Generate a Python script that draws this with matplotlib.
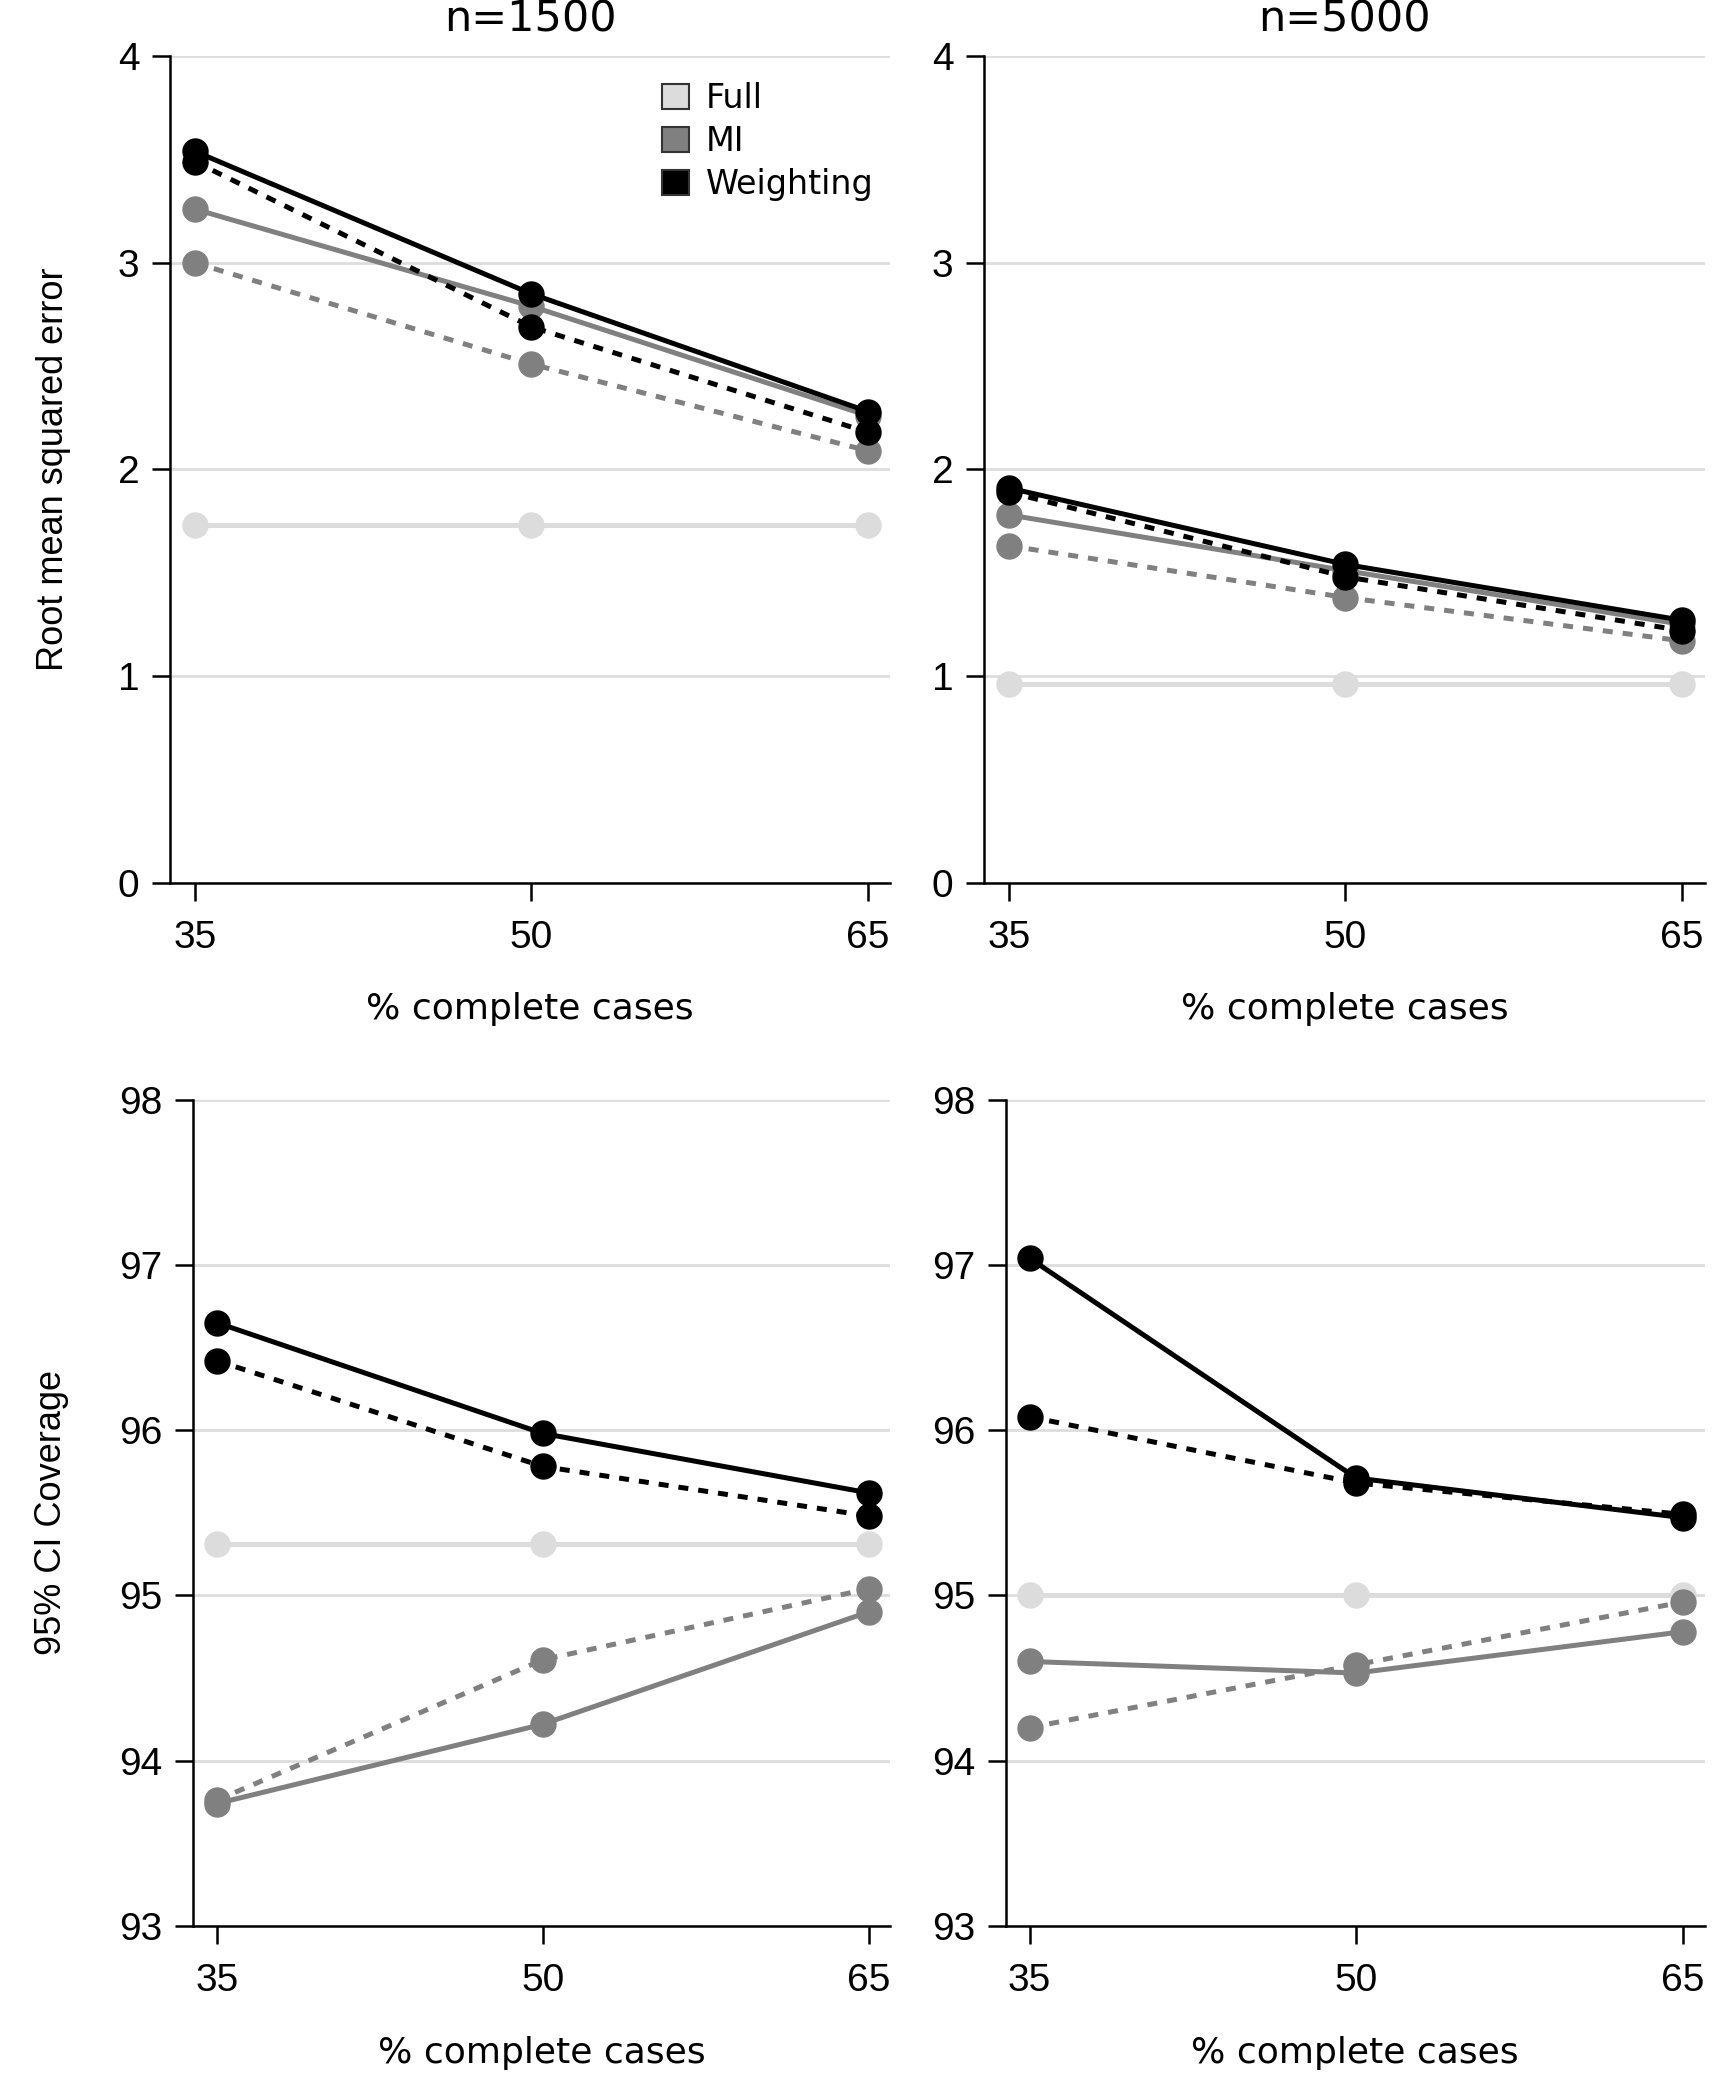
import numpy as np
import matplotlib
matplotlib.use("Agg")
import matplotlib.pyplot as plt
from matplotlib.patches import Patch

# % complete cases
pct = [35, 50, 65]

# RMSE, n=1500
rmse1500_full = [1.73, 1.73, 1.73]
rmse1500_mi = [3.26, 2.79, 2.26]
rmse1500_mi_d = [3.00, 2.51, 2.09]
rmse1500_w = [3.54, 2.85, 2.28]
rmse1500_w_d = [3.49, 2.69, 2.18]

# RMSE, n=5000
rmse5000_full = [0.96, 0.96, 0.96]
rmse5000_mi = [1.78, 1.51, 1.25]
rmse5000_mi_d = [1.63, 1.38, 1.17]
rmse5000_w = [1.91, 1.54, 1.27]
rmse5000_w_d = [1.89, 1.48, 1.22]

# coverage, n=1500
cov1500_full = [95.31, 95.31, 95.31]
cov1500_mi = [93.74, 94.22, 94.90]
cov1500_mi_d = [93.76, 94.61, 95.04]
cov1500_w = [96.65, 95.98, 95.62]
cov1500_w_d = [96.42, 95.78, 95.48]

# coverage, n=5000
cov5000_full = [95.00, 95.00, 95.00]
cov5000_mi = [94.60, 94.53, 94.78]
cov5000_mi_d = [94.20, 94.58, 94.96]
cov5000_w = [97.04, 95.71, 95.47]
cov5000_w_d = [96.08, 95.68, 95.49]

C_FULL = "#dcdcdc"
C_MI = "#808080"
C_W = "#000000"

TICKFONT = "Liberation Sans"
LABFONT = "DejaVu Sans"

fig = plt.figure(figsize=(17.3, 21), dpi=100)

W, H = 1292.0, 1568.0
def box(l, r, t, b):
    return [l / W, 1 - b / H, (r - l) / W, (b - t) / H]

ax_tl = fig.add_axes(box(127, 665, 42, 659))
ax_tr = fig.add_axes(box(735, 1273, 42, 659))
ax_bl = fig.add_axes(box(144, 665, 821, 1438))
ax_br = fig.add_axes(box(751, 1273, 821, 1438))


def draw(ax, full, mi, mi_d, w, w_d, ylim, yticks):
    kw = dict(lw=3.6, marker="o", ms=18, solid_capstyle="butt")
    ax.plot(pct, full, color=C_FULL, **kw)
    ax.plot(pct, mi_d, color=C_MI, ls=(0, (2.0, 2.0)), **kw)
    ax.plot(pct, mi, color=C_MI, **kw)
    ax.plot(pct, w_d, color=C_W, ls=(0, (2.0, 2.0)), **kw)
    ax.plot(pct, w, color=C_W, **kw)
    ax.set_xlim(33.9, 66)
    ax.set_ylim(*ylim)
    ax.set_yticks(yticks)
    ax.set_xticks(pct)
    for s in ["top", "right"]:
        ax.spines[s].set_visible(False)
    for s in ["left", "bottom"]:
        ax.spines[s].set_linewidth(1.8)
    ax.yaxis.grid(True, color="#dddddd", lw=2)
    ax.set_axisbelow(True)
    ax.tick_params(axis="both", length=13, width=1.8, labelsize=28)
    ax.tick_params(axis="y", pad=9)
    ax.tick_params(axis="x", pad=14)
    for lab in ax.get_xticklabels() + ax.get_yticklabels():
        lab.set_fontfamily(TICKFONT)
    ax.set_xlabel("% complete cases", fontsize=26, family=LABFONT, labelpad=26)


draw(ax_tl, rmse1500_full, rmse1500_mi, rmse1500_mi_d, rmse1500_w, rmse1500_w_d, (0, 4), [0, 1, 2, 3, 4])
draw(ax_tr, rmse5000_full, rmse5000_mi, rmse5000_mi_d, rmse5000_w, rmse5000_w_d, (0, 4), [0, 1, 2, 3, 4])
draw(ax_bl, cov1500_full, cov1500_mi, cov1500_mi_d, cov1500_w, cov1500_w_d, (93, 98), [93, 94, 95, 96, 97, 98])
draw(ax_br, cov5000_full, cov5000_mi, cov5000_mi_d, cov5000_w, cov5000_w_d, (93, 98), [93, 94, 95, 96, 97, 98])

ax_tl.set_title("n=1500", fontsize=31, family=LABFONT, pad=18)
ax_tr.set_title("n=5000", fontsize=31, family=LABFONT, pad=18)
ax_tl.set_ylabel("Root mean squared error", fontsize=26, family=TICKFONT, labelpad=34)
ax_bl.set_ylabel("95% CI Coverage", fontsize=26, family=TICKFONT, labelpad=36)

handles = [Patch(facecolor=C_FULL, edgecolor="#333333", lw=1.5, label="Full"),
           Patch(facecolor=C_MI, edgecolor="#333333", lw=1.5, label="MI"),
           Patch(facecolor=C_W, edgecolor="#333333", lw=1.5, label="Weighting")]
leg = ax_tl.legend(handles=handles, loc="upper right", bbox_to_anchor=(0.995, 0.985),
                   frameon=False, prop={"family": LABFONT, "size": 24},
                   handlelength=0.8, handleheight=0.8, handletextpad=0.5,
                   labelspacing=0.3, borderaxespad=0.0)

fig.savefig("out.png", dpi=100)
